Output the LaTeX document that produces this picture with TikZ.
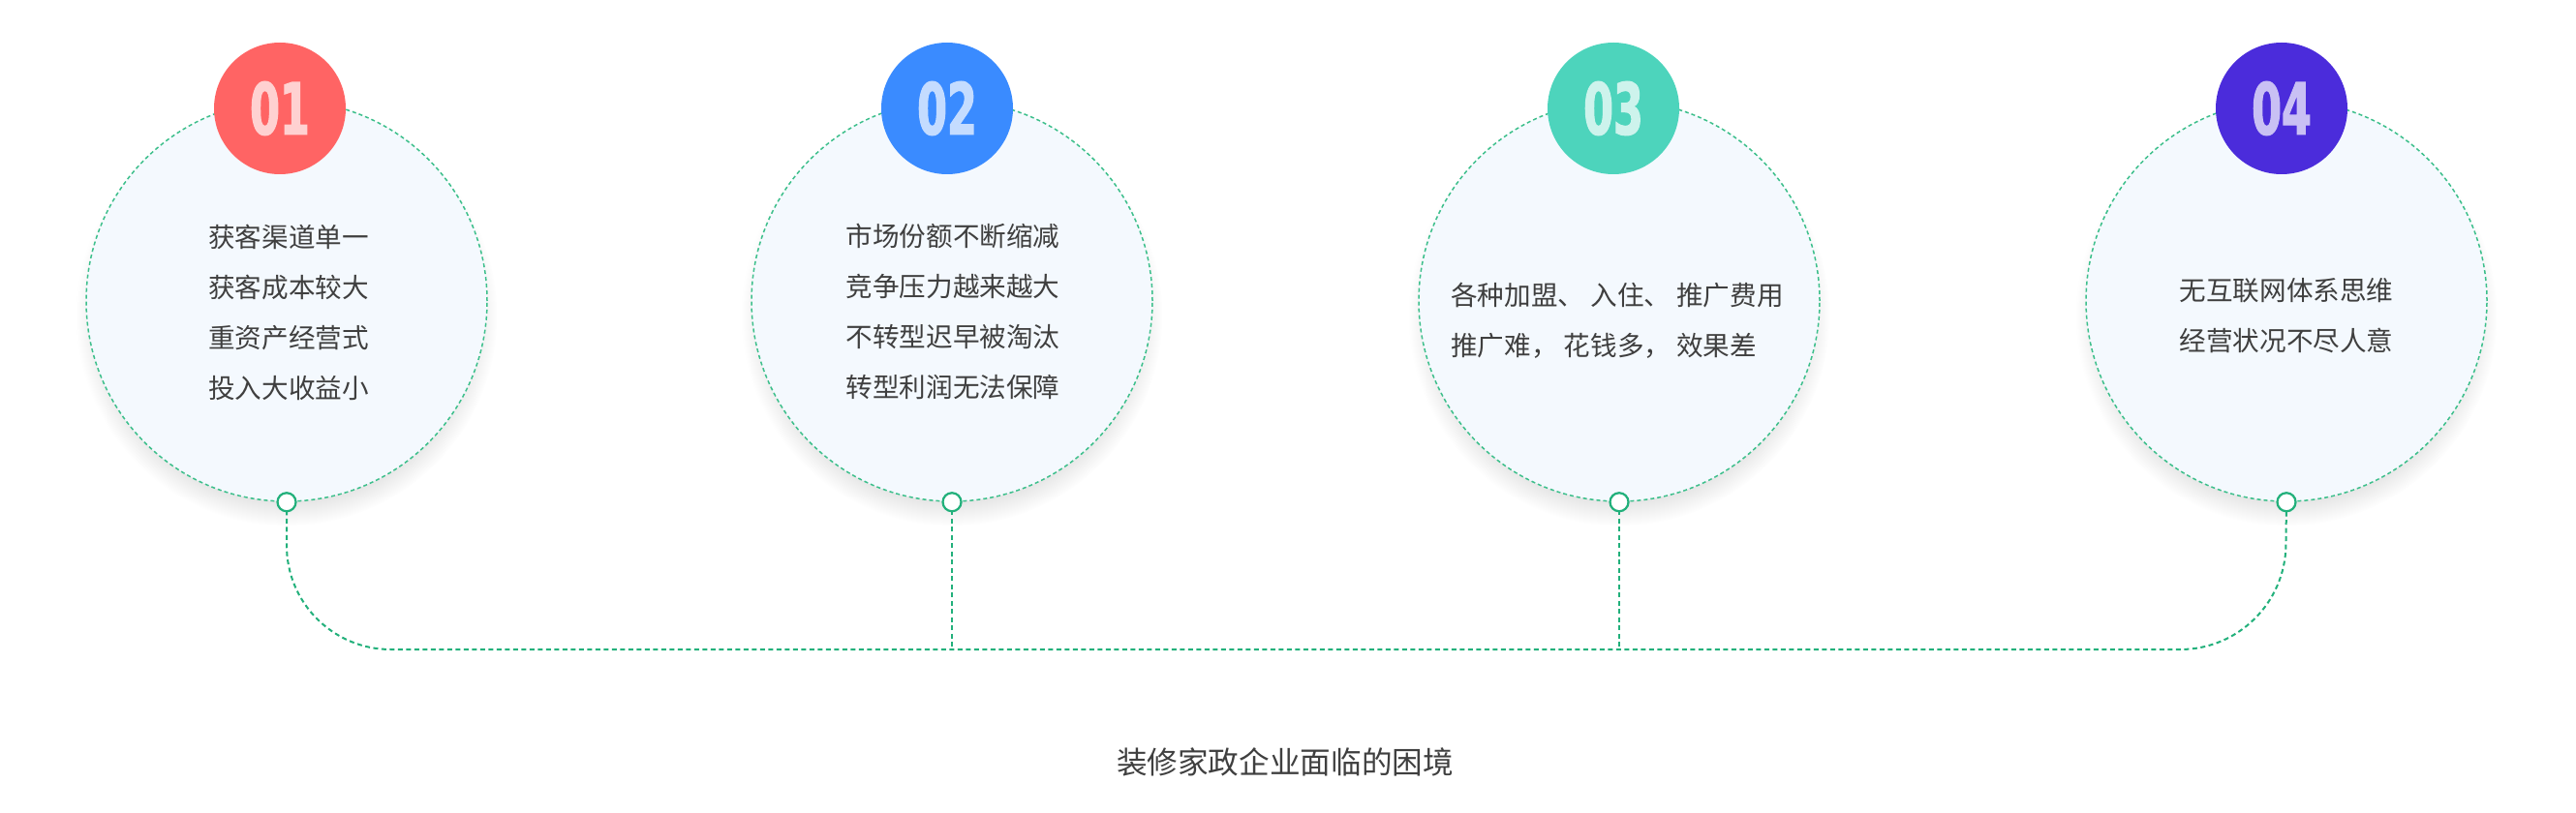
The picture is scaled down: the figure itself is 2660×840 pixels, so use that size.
\documentclass[tikz,border=0pt]{standalone}
\usepackage{fontspec}
\usepackage{xcolor}
\usepackage{tikz}
\usetikzlibrary{shadows}

\newfontfamily\cjk{Noto Sans CJK SC}
\newfontfamily\numfont[FakeStretch=0.6, FakeBold=1.6]{DejaVu Sans Bold}

\definecolor{ringgreen}{HTML}{3CBF8B}
\definecolor{linegreen}{HTML}{22B07B}
\definecolor{cellfill}{HTML}{F4F9FE}
\definecolor{textgray}{HTML}{3F3F3F}
\definecolor{redbadge}{HTML}{FF6464}
\definecolor{bluebadge}{HTML}{3A8BFF}
\definecolor{tealbadge}{HTML}{4DD4BC}
\definecolor{purplebadge}{HTML}{4B2CDB}

\begin{document}
\begin{tikzpicture}[x=0.2mm, y=-0.2mm,
  bigcircle/.style={circle, minimum size=82.8mm, inner sep=0pt, fill=cellfill,
    draw=ringgreen, line width=0.3mm, dash pattern=on 0.8mm off 0.6mm,
    circular drop shadow={shadow xshift=0pt, shadow yshift=-8pt, shadow scale=1.05, opacity=0.26}},
  badge/.style={circle, minimum size=27.2mm, inner sep=0pt,
    font=\numfont\fontsize{42pt}{42pt}\selectfont},
  itemtext/.style={text=textgray, align=center, inner sep=0pt,
    font=\cjk\fontsize{15.7pt}{29.5pt}\selectfont},
  joint/.style={circle, minimum size=3.8mm, inner sep=0pt, fill=white, draw=linegreen, line width=0.45mm},
  conn/.style={draw=linegreen, line width=0.4mm, dash pattern=on 1mm off 0.7mm}]
\useasboundingbox (0,0) rectangle (2660,840);

% circles
\node[bigcircle] (c1) at (296,311) {};
\node[bigcircle] (c2) at (983,311) {};
\node[bigcircle] (c3) at (1672,311) {};
\node[bigcircle] (c4) at (2361,311) {};

% numbers
\node[badge, fill=redbadge, text=red!18!white] (b1) at (289,112) {01};
\node[badge, fill=bluebadge, text=bluebadge!30!white] (b2) at (978,112) {02};
\node[badge, fill=tealbadge, text=tealbadge!28!white] (b3) at (1666,112) {03};
\node[badge, fill=purplebadge, text=purplebadge!30!white] (b4) at (2356,112) {04};

% texts
\node[itemtext] (t1) at (298,323) {获客渠道单一\\获客成本较大\\重资产经营式\\投入大收益小};
\node[itemtext] (t2) at (984,322) {市场份额不断缩减\\竞争压力越来越大\\不转型迟早被淘汰\\转型利润无法保障};
\node[itemtext, align=left] (t3) at (1670,331) {各种加盟、 入住、 推广费用\\推广难， 花钱多， 效果差};
\node[itemtext] (t4) at (2361,326) {无互联网体系思维\\经营状况不尽人意};

% connectors
\coordinate (l1) at (296,671);
\coordinate (l4) at (2359,671);
\coordinate (m2) at (983,671);
\coordinate (m3) at (1672,671);
\draw[conn, rounded corners=21.5mm] (c1.south) -- (l1) -- (l4) -- (c4.south);
\draw[conn] (c2.south) -- (m2);
\draw[conn] (c3.south) -- (m3);

\node[joint] (j1) at (c1.south) {};
\node[joint] (j2) at (c2.south) {};
\node[joint] (j3) at (c3.south) {};
\node[joint] (j4) at (c4.south) {};

\node[text=textgray, font=\cjk\fontsize{18pt}{20pt}\selectfont] (title) at (1327,787) {装修家政企业面临的困境};
\end{tikzpicture}
\end{document}
